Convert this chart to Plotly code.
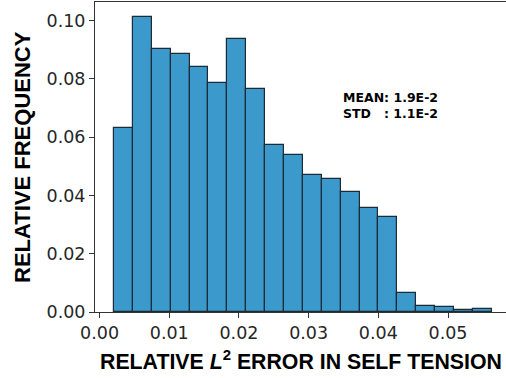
import plotly.graph_objects as go

bin_start = 0.00208
bin_width = 0.00271
freq = [0.0630, 0.1011, 0.0901, 0.0885, 0.0840, 0.0785, 0.0938, 0.0767, 0.0574, 0.0539,
        0.0469, 0.0455, 0.0411, 0.0356, 0.0325, 0.0064, 0.0021, 0.0016, 0.0007, 0.0011]
centers = [bin_start + bin_width * (i + 0.5) for i in range(len(freq))]
x_ticks = [0.00, 0.01, 0.02, 0.03, 0.04, 0.05]
y_ticks = [0.00, 0.02, 0.04, 0.06, 0.08, 0.10]

fig = go.Figure()
fig.add_trace(go.Bar(
    x=centers, y=freq, width=[bin_width] * len(freq),
    marker=dict(color="#3b99cb", line=dict(color="#1c2b36", width=1.2)),
))

tick_font = dict(family="DejaVu Sans", size=17.5, color="#262626")
fig.update_layout(
    width=506, height=378,
    margin=dict(l=95, r=0, t=2, b=66),
    paper_bgcolor="white", plot_bgcolor="white",
    showlegend=False, bargap=0,
    xaxis=dict(range=[-0.00065, 0.05832], tickvals=x_ticks, tickformat=".2f",
               showgrid=False, zeroline=False, showline=True, linecolor="#333333",
               linewidth=1, mirror=True, ticks="outside", ticklen=5, tickcolor="#333333",
               tickfont=tick_font),
    yaxis=dict(range=[0, 0.1064], tickvals=y_ticks, tickformat=".2f",
               showgrid=False, zeroline=False, showline=True, linecolor="#333333",
               linewidth=1, ticks="outside", ticklen=5, tickcolor="#333333",
               tickfont=tick_font),
)

title_font = dict(family="Liberation Sans", size=22, color="black")
fig.add_annotation(text="<b>RELATIVE FREQUENCY</b>", textangle=-90, showarrow=False,
                   xref="paper", yref="paper", x=(22 - 95) / 411, y=(312 - 157) / 310,
                   xanchor="center", yanchor="middle", font=title_font)
fig.add_annotation(text="<b>RELATIVE <i>L</i><sup>2</sup> ERROR IN SELF TENSION</b>",
                   showarrow=False, xref="paper", yref="paper",
                   x=(98 - 95) / 411, y=(312 - 361) / 310,
                   xanchor="left", yanchor="middle",
                   font=dict(family="Liberation Sans", size=21.3, color="black"))
fig.add_annotation(text="<b>MEAN: 1.9E-2<br>STD&nbsp;&nbsp;&nbsp;: 1.1E-2</b>",
                   showarrow=False, xref="paper", yref="paper", align="left",
                   x=(341 - 95) / 411, y=(312 - 88) / 310,
                   xanchor="left", yanchor="top",
                   font=dict(family="DejaVu Sans", size=12.5, color="black"))

fig.write_html("out.html")
